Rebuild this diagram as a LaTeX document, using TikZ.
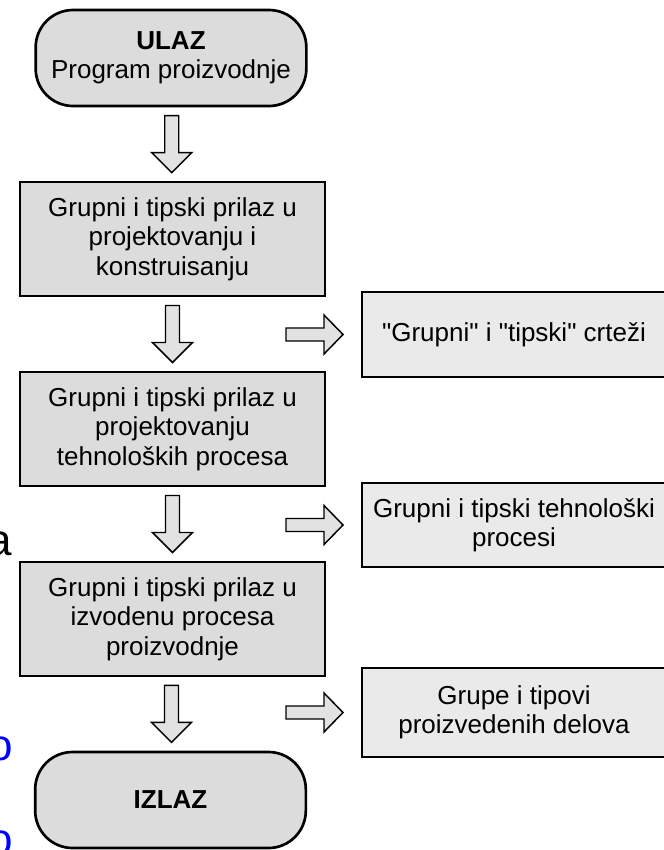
\documentclass[tikz,border=0pt]{standalone}
\usepackage{fontspec}
\setmainfont{Liberation Sans}[Ligatures=TeXOff]
\usetikzlibrary{calc,shadows}
\definecolor{boxgray}{HTML}{DCDCDC}
\definecolor{rboxgray}{HTML}{EAEAEA}
\definecolor{arrgray}{HTML}{E2E2E2}
\definecolor{linkblue}{HTML}{0000FF}
\begin{document}
\begin{tikzpicture}[x=0.75pt,y=-0.75pt,
  txt/.style={font=\fontsize{19.5}{22}\selectfont, align=center, inner sep=0pt},
  shad/.style={drop shadow={shadow xshift=1pt, shadow yshift=-1pt, fill=black!80, opacity=1}},
  lbox/.style={txt, shad, draw, line width=1.5pt, fill=boxgray, minimum width=228.75pt, minimum height=85.5pt},
  rbox/.style={txt, shad, draw, line width=1.5pt, fill=rboxgray, minimum width=228pt},
  term/.style={txt, draw, line width=2pt, fill=boxgray, rounded corners=28pt, minimum width=203pt, minimum height=72pt},
  arrowstyle/.style={draw, line width=1.1pt, fill=arrgray, line join=miter},
  frag/.style={font=\fontsize{33}{36}\selectfont, anchor=base, inner sep=0pt},
  downarr/.pic={\path[arrowstyle] (-7,-28.5) -- (7,-28.5) -- (7,8.5) -- (20,8.5) -- (0,28.5) -- (-20,8.5) -- (-7,8.5) -- cycle;},
  rightarr/.pic={\path[arrowstyle] (-28.5,-6.5) -- (9.5,-6.5) -- (9.5,-19.5) -- (28.5,0) -- (9.5,19.5) -- (9.5,6.5) -- (-28.5,6.5) -- cycle;}
]
\useasboundingbox (0,0) rectangle (664,850);
\clip (0,0) rectangle (664,850);
\fill[white] (0,0) rectangle (664,850);

% fragments at left edge
\node[frag] (fa) at (0,555) {a};
\node[frag, text=linkblue] (fo1) at (1,760) {o};
\node[frag, text=linkblue] (fo2) at (1,854) {o};

% main column
\node[term] (ulaz) at (171,58) {\textbf{ULAZ}\\Program proizvodnje};
\node[lbox] (b1) at (172.5,239) {Grupni i tipski prilaz u\\projektovanju i\\konstruisanju};
\node[lbox] (b2) at (172.5,429) {Grupni i tipski prilaz u\\projektovanju\\tehnoloških procesa};
\node[lbox] (b3) at (172.5,619) {Grupni i tipski prilaz u\\izvodenu procesa\\proizvodnje};
\node[term] (izlaz) at (170.5,800) {\textbf{IZLAZ}};

% right column
\node[rbox, minimum height=63.75pt] (r1) at (514,334.5) {"Grupni" i "tipski" crteži};
\node[rbox, minimum height=63pt] (r2) at (514,525) {Grupni i tipski tehnološki\\procesi};
\node[rbox, minimum height=66.75pt] (r3) at (514,712.5) {Grupe i tipovi\\proizvedenih delova};

% down arrows
\path ($(ulaz.south)!0.5!(b1.north)$) pic {downarr};
\path ($(b1.south)!0.5!(b2.north)$) pic {downarr};
\path ($(b2.south)!0.5!(b3.north)$) pic {downarr};
\path ($(b3.south)!0.5!(izlaz.north)$) pic {downarr};

% right arrows
\path ($(r1.west)+(-46.5,0)$) pic {rightarr};
\path ($(r2.west)+(-46.5,0)$) pic {rightarr};
\path ($(r3.west)+(-46.5,0)$) pic {rightarr};
\end{tikzpicture}
\end{document}
